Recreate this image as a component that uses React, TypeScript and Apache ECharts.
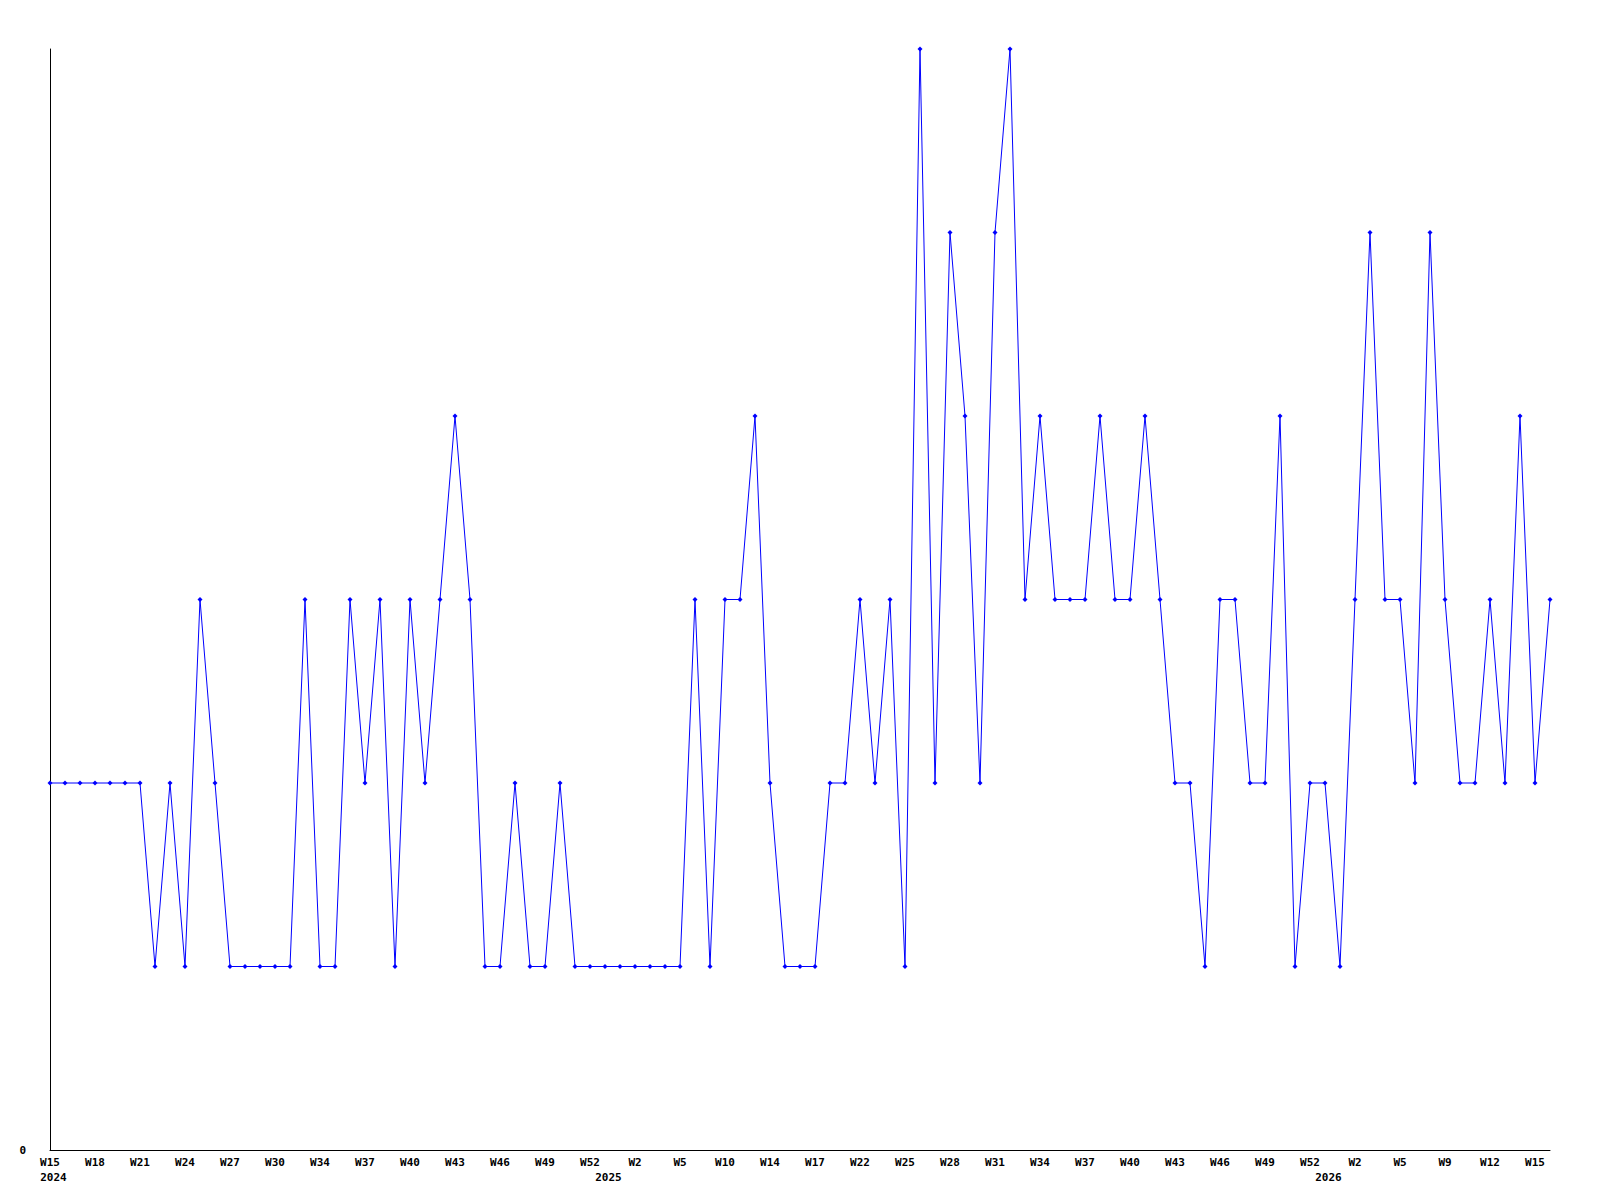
import React, { useEffect, useRef } from "react";
import * as echarts from "echarts";

// Weekly values, W15 2024 onward
const values: number[] = [
  2, 2, 2, 2, 2, 2, 2, 1, 2, 1,
  3, 2, 1, 1, 1, 1, 1, 3, 1, 1,
  3, 2, 3, 1, 3, 2, 3, 4, 3, 1,
  1, 2, 1, 1, 2, 1, 1, 1, 1, 1,
  1, 1, 1, 3, 1, 3, 3, 4, 2, 1,
  1, 1, 2, 2, 3, 2, 3, 1, 6, 2,
  5, 4, 2, 5, 6, 3, 4, 3, 3, 3,
  4, 3, 3, 4, 3, 2, 2, 1, 3, 3,
  2, 2, 4, 1, 2, 2, 1, 3, 5, 3,
  3, 2, 5, 3, 2, 2, 3, 2, 4, 2,
  3,
];

// Tick labels shown every third point
const weekTickLabels: string[] = [
  "W15", "W18", "W21", "W24", "W27", "W30", "W34", "W37", "W40", "W43",
  "W46", "W49", "W52", "W2", "W5", "W10", "W14", "W17", "W22", "W25",
  "W28", "W31", "W34", "W37", "W40", "W43", "W46", "W49", "W52", "W2",
  "W5", "W9", "W12", "W15",
];

// Year labels and the point index they sit under
const yearLabels: string[] = ["2024", "2025", "2026"];
const yearIndices: number[] = [0, 37, 85];

const yMin = 0;
const yMax = 6;

export default function App() {
  const ref = useRef<HTMLDivElement>(null);

  useEffect(() => {
    if (!ref.current) return;
    const chart = echarts.init(ref.current, undefined, { renderer: "svg" });
    const categories = values.map((_, i) => String(i));
    const font = {
      fontFamily: "DejaVu Sans Mono",
      fontWeight: "bold" as const,
      fontSize: 11,
      color: "#000",
    };
    chart.setOption({
      animation: false,
      backgroundColor: "#fff",
      grid: { left: 50, right: 50, top: 49, bottom: 50, containLabel: false },
      xAxis: [
        {
          type: "category",
          data: categories,
          boundaryGap: false,
          axisLine: { show: true, lineStyle: { color: "#000", width: 1 } },
          axisTick: { show: false },
          splitLine: { show: false },
          axisLabel: {
            ...font,
            interval: 2,
            margin: 7,
            formatter: (_v: string, idx: number) =>
              idx % 3 === 0 ? weekTickLabels[idx / 3] ?? "" : "",
          },
        },
        {
          type: "category",
          position: "bottom",
          data: categories,
          boundaryGap: false,
          axisLine: { show: false },
          axisTick: { show: false },
          splitLine: { show: false },
          axisLabel: {
            ...font,
            margin: 22,
            padding: [0, 0, 0, 7],
            interval: (idx: number) => yearIndices.includes(idx),
            formatter: (_v: string, idx: number) => {
              const k = yearIndices.indexOf(idx);
              return k >= 0 ? yearLabels[k] : "";
            },
          },
        },
      ],
      yAxis: {
        type: "value",
        min: yMin,
        max: yMax,
        interval: 1,
        axisLine: { show: true, lineStyle: { color: "#000", width: 1 } },
        axisTick: { show: false },
        splitLine: { show: false },
        axisLabel: {
          ...font,
          margin: 24,
          formatter: (v: number) => (v === 0 ? "0" : ""),
        },
      },
      series: [
        {
          type: "line",
          xAxisIndex: 0,
          data: values,
          symbol: "diamond",
          symbolSize: 5,
          showAllSymbol: true,
          lineStyle: { color: "#0000ff", width: 1 },
          itemStyle: { color: "#0000ff" },
        },
      ],
    });
    return () => chart.dispose();
  }, []);

  return (
    <div
      ref={ref}
      style={{ position: "absolute", left: 0, top: 0, width: 1600, height: 1200 }}
    />
  );
}
